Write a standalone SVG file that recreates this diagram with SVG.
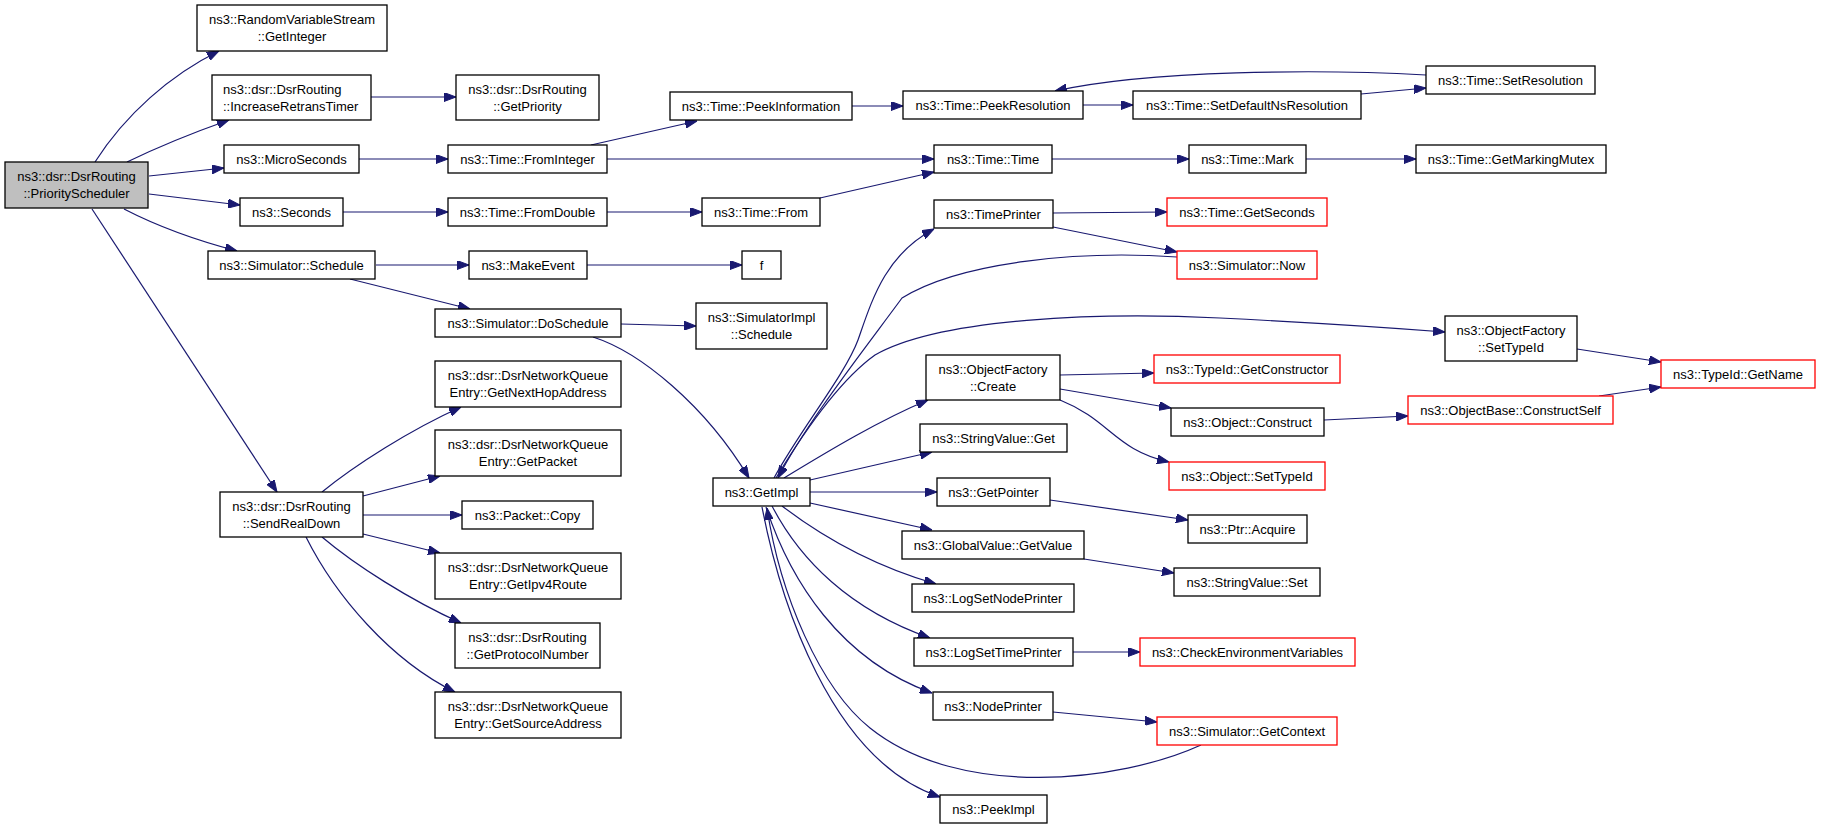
<svg xmlns="http://www.w3.org/2000/svg" width="1827" height="829" viewBox="0 0 1827 829">
<style>
.n rect{fill:#fff;stroke:#000;stroke-width:1.3}
.n.r rect{stroke:#ff0000}
.n.root rect{fill:#bfbfbf}
.n text{font-family:"Liberation Sans",Arial,sans-serif;font-size:13px;fill:#000;text-anchor:middle}
.n text.l{text-anchor:start}
#edges path{fill:none;stroke:#191970;stroke-width:1.2;marker-end:url(#ah)}
</style>
<defs>
<marker id="ah" viewBox="0 0 12 9" refX="12" refY="4.5" markerWidth="12" markerHeight="9" markerUnits="userSpaceOnUse" orient="auto">
<path d="M0,0 L12,4.5 L0,9 z" fill="#191970" stroke="#191970" stroke-width="1"/>
</marker>
</defs>
<rect width="1827" height="829" fill="#fff"/>
<g id="edges">
<path d="M95,162 C125,115 170,75 219,51"/>
<path d="M127,162 C160,146 195,132 229,120"/>
<path d="M149,176 L224,168"/>
<path d="M149,194 L240,205"/>
<path d="M124,209 C155,225 195,240 237,251"/>
<path d="M92,209 L277,492"/>
<path d="M371,97 L456,97"/>
<path d="M359,159 L448,159"/>
<path d="M343,212 L448,212"/>
<path d="M376,265 L469,265"/>
<path d="M350,279 L470,309"/>
<path d="M587,265 L742,265"/>
<path d="M621,324 L696,326"/>
<path d="M593,337 C640,352 705,405 749,478"/>
<path d="M591,145 L697,121"/>
<path d="M607,159 L934,159"/>
<path d="M607,212 L702,212"/>
<path d="M820,198 L934,172"/>
<path d="M852,106 L903,106"/>
<path d="M1083,105 L1133,105"/>
<path d="M1361,94 L1426,88"/>
<path d="M1426,75 C1320,69 1150,70 1055,91"/>
<path d="M1052,159 L1189,159"/>
<path d="M1306,159 L1416,159"/>
<path d="M1053,213 L1167,212"/>
<path d="M1053,227 L1177,252"/>
<path d="M774,478 C800,430 845,375 858,340 C872,300 885,255 934,229"/>
<path d="M1177,257 C1080,250 960,262 902,298 C860,355 805,425 778,478"/>
<path d="M776,478 C805,430 840,380 875,355 C940,318 1100,312 1220,318 C1300,322 1380,327 1445,332"/>
<path d="M784,478 C830,450 880,420 928,400"/>
<path d="M810,480 L932,452"/>
<path d="M810,492 L937,492"/>
<path d="M810,503 L932,530"/>
<path d="M782,506 C820,535 870,565 936,584"/>
<path d="M772,506 C800,560 850,610 930,638"/>
<path d="M766,507 C790,580 840,660 932,693"/>
<path d="M762,507 C780,600 830,760 940,797"/>
<path d="M1201,745 C1120,782 960,800 870,728 C820,688 780,595 767,508"/>
<path d="M1060,375 L1154,373"/>
<path d="M1060,389 L1171,408"/>
<path d="M1060,400 C1110,420 1115,450 1169,462"/>
<path d="M1324,420 L1408,416"/>
<path d="M1599,396 L1661,387"/>
<path d="M1577,349 L1661,362"/>
<path d="M1050,500 L1188,520"/>
<path d="M1084,559 L1174,573"/>
<path d="M1073,652 L1140,652"/>
<path d="M1053,712 L1157,722"/>
<path d="M322,492 C355,465 410,430 461,407"/>
<path d="M363,496 L440,476"/>
<path d="M363,515 L462,515"/>
<path d="M363,534 L440,553"/>
<path d="M322,537 C355,565 410,600 461,623"/>
<path d="M306,537 C335,595 390,660 455,692"/>
</g>
<g id="n1" class="n root"><rect x="5" y="162" width="143" height="46"/><text x="76.5" y="181">ns3::dsr::DsrRouting</text><text x="76.5" y="198">::PriorityScheduler</text></g>
<g id="n2" class="n"><rect x="197" y="5" width="190" height="46"/><text x="292" y="24">ns3::RandomVariableStream</text><text x="292" y="41">::GetInteger</text></g>
<g id="n3" class="n"><rect x="212" y="75" width="159" height="45"/><text class="l" x="223" y="94">ns3::dsr::DsrRouting</text><text class="l" x="223" y="111">::IncreaseRetransTimer</text></g>
<g id="n4" class="n"><rect x="456" y="75" width="143" height="45"/><text x="527.5" y="94">ns3::dsr::DsrRouting</text><text x="527.5" y="111">::GetPriority</text></g>
<g id="n5" class="n"><rect x="224" y="145" width="135" height="28"/><text x="291.5" y="163.5">ns3::MicroSeconds</text></g>
<g id="n6" class="n"><rect x="448" y="145" width="159" height="28"/><text x="527.5" y="163.5">ns3::Time::FromInteger</text></g>
<g id="n7" class="n"><rect x="240" y="198" width="103" height="28"/><text x="291.5" y="216.5">ns3::Seconds</text></g>
<g id="n8" class="n"><rect x="448" y="198" width="159" height="28"/><text x="527.5" y="216.5">ns3::Time::FromDouble</text></g>
<g id="n9" class="n"><rect x="208" y="251" width="167" height="28"/><text x="291.5" y="269.5">ns3::Simulator::Schedule</text></g>
<g id="n10" class="n"><rect x="469" y="251" width="118" height="28"/><text x="528" y="269.5">ns3::MakeEvent</text></g>
<g id="n11" class="n"><rect x="742" y="251" width="39" height="28"/><text x="761.5" y="269.5">f</text></g>
<g id="n12" class="n"><rect x="435" y="309" width="186" height="28"/><text x="528" y="327.5">ns3::Simulator::DoSchedule</text></g>
<g id="n13" class="n"><rect x="696" y="303" width="131" height="46"/><text x="761.5" y="322">ns3::SimulatorImpl</text><text x="761.5" y="339">::Schedule</text></g>
<g id="n14" class="n"><rect x="670" y="92" width="182" height="28"/><text x="761" y="110.5">ns3::Time::PeekInformation</text></g>
<g id="n15" class="n"><rect x="903" y="91" width="180" height="28"/><text x="993" y="109.5">ns3::Time::PeekResolution</text></g>
<g id="n16" class="n"><rect x="1133" y="91" width="228" height="28"/><text x="1247" y="109.5">ns3::Time::SetDefaultNsResolution</text></g>
<g id="n17" class="n"><rect x="1426" y="66" width="169" height="28"/><text x="1510.5" y="84.5">ns3::Time::SetResolution</text></g>
<g id="n18" class="n"><rect x="934" y="145" width="118" height="28"/><text x="993" y="163.5">ns3::Time::Time</text></g>
<g id="n19" class="n"><rect x="1189" y="145" width="117" height="28"/><text x="1247.5" y="163.5">ns3::Time::Mark</text></g>
<g id="n20" class="n"><rect x="1416" y="145" width="190" height="28"/><text x="1511" y="163.5">ns3::Time::GetMarkingMutex</text></g>
<g id="n21" class="n"><rect x="702" y="198" width="118" height="28"/><text x="761" y="216.5">ns3::Time::From</text></g>
<g id="n22" class="n"><rect x="934" y="200" width="119" height="28"/><text x="993.5" y="218.5">ns3::TimePrinter</text></g>
<g id="n23" class="n r"><rect x="1167" y="198" width="160" height="28"/><text x="1247" y="216.5">ns3::Time::GetSeconds</text></g>
<g id="n24" class="n r"><rect x="1177" y="251" width="140" height="28"/><text x="1247" y="269.5">ns3::Simulator::Now</text></g>
<g id="n25" class="n"><rect x="1445" y="316" width="132" height="45"/><text x="1511" y="335">ns3::ObjectFactory</text><text x="1511" y="352">::SetTypeId</text></g>
<g id="n26" class="n r"><rect x="1661" y="360" width="154" height="28"/><text x="1738" y="378.5">ns3::TypeId::GetName</text></g>
<g id="n27" class="n"><rect x="926" y="355" width="134" height="45"/><text x="993" y="374">ns3::ObjectFactory</text><text x="993" y="391">::Create</text></g>
<g id="n28" class="n r"><rect x="1154" y="355" width="186" height="28"/><text x="1247" y="373.5">ns3::TypeId::GetConstructor</text></g>
<g id="n29" class="n"><rect x="1171" y="408" width="153" height="28"/><text x="1247.5" y="426.5">ns3::Object::Construct</text></g>
<g id="n30" class="n r"><rect x="1408" y="396" width="205" height="28"/><text x="1510.5" y="414.5">ns3::ObjectBase::ConstructSelf</text></g>
<g id="n31" class="n r"><rect x="1169" y="462" width="156" height="28"/><text x="1247" y="480.5">ns3::Object::SetTypeId</text></g>
<g id="n32" class="n"><rect x="920" y="424" width="147" height="28"/><text x="993.5" y="442.5">ns3::StringValue::Get</text></g>
<g id="n33" class="n"><rect x="937" y="478" width="113" height="28"/><text x="993.5" y="496.5">ns3::GetPointer</text></g>
<g id="n34" class="n"><rect x="1188" y="515" width="119" height="28"/><text x="1247.5" y="533.5">ns3::Ptr::Acquire</text></g>
<g id="n35" class="n"><rect x="902" y="531" width="182" height="28"/><text x="993" y="549.5">ns3::GlobalValue::GetValue</text></g>
<g id="n36" class="n"><rect x="1174" y="568" width="146" height="28"/><text x="1247" y="586.5">ns3::StringValue::Set</text></g>
<g id="n37" class="n"><rect x="912" y="584" width="162" height="28"/><text x="993" y="602.5">ns3::LogSetNodePrinter</text></g>
<g id="n38" class="n"><rect x="914" y="638" width="159" height="28"/><text x="993.5" y="656.5">ns3::LogSetTimePrinter</text></g>
<g id="n39" class="n r"><rect x="1140" y="638" width="215" height="28"/><text x="1247.5" y="656.5">ns3::CheckEnvironmentVariables</text></g>
<g id="n40" class="n"><rect x="933" y="692" width="120" height="28"/><text x="993" y="710.5">ns3::NodePrinter</text></g>
<g id="n41" class="n r"><rect x="1157" y="717" width="180" height="28"/><text x="1247" y="735.5">ns3::Simulator::GetContext</text></g>
<g id="n42" class="n"><rect x="940" y="795" width="107" height="28"/><text x="993.5" y="813.5">ns3::PeekImpl</text></g>
<g id="n43" class="n"><rect x="713" y="478" width="97" height="28"/><text x="761.5" y="496.5">ns3::GetImpl</text></g>
<g id="n44" class="n"><rect x="220" y="492" width="143" height="45"/><text x="291.5" y="511">ns3::dsr::DsrRouting</text><text x="291.5" y="528">::SendRealDown</text></g>
<g id="n45" class="n"><rect x="435" y="361" width="186" height="46"/><text x="528" y="380">ns3::dsr::DsrNetworkQueue</text><text x="528" y="397">Entry::GetNextHopAddress</text></g>
<g id="n46" class="n"><rect x="435" y="430" width="186" height="46"/><text x="528" y="449">ns3::dsr::DsrNetworkQueue</text><text x="528" y="466">Entry::GetPacket</text></g>
<g id="n47" class="n"><rect x="462" y="501" width="131" height="28"/><text x="527.5" y="519.5">ns3::Packet::Copy</text></g>
<g id="n48" class="n"><rect x="435" y="553" width="186" height="46"/><text x="528" y="572">ns3::dsr::DsrNetworkQueue</text><text x="528" y="589">Entry::GetIpv4Route</text></g>
<g id="n49" class="n"><rect x="455" y="623" width="145" height="45"/><text x="527.5" y="642">ns3::dsr::DsrRouting</text><text x="527.5" y="659">::GetProtocolNumber</text></g>
<g id="n50" class="n"><rect x="435" y="692" width="186" height="46"/><text x="528" y="711">ns3::dsr::DsrNetworkQueue</text><text x="528" y="728">Entry::GetSourceAddress</text></g>
</svg>
